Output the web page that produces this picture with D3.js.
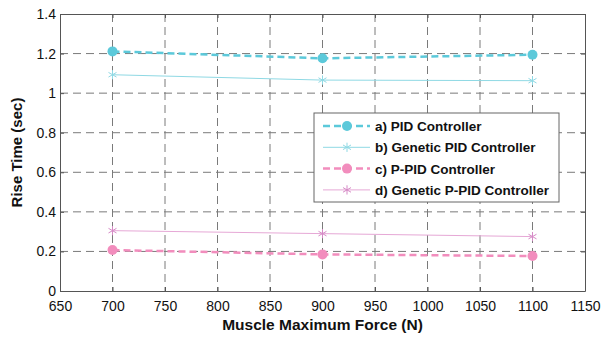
<!DOCTYPE html>
<html>
<head>
<meta charset="utf-8">
<script src="https://cdn.jsdelivr.net/npm/d3@7"></script>
<style>
  body { margin: 0; background: #fff; }
  text { font-family: "Liberation Sans", Arial, sans-serif; }
</style>
</head>
<body>
<svg id="chart" width="601" height="337"></svg>
<script>
// data
const forces = [700, 900, 1100];
const pid = [1.211, 1.176, 1.194];
const geneticPid = [1.093, 1.066, 1.063];
const pPid = [0.207, 0.185, 0.177];
const geneticPPid = [0.305, 0.29, 0.275];
const xTicks = [650, 700, 750, 800, 850, 900, 950, 1000, 1050, 1100, 1150];
const yTicks = [0, 0.2, 0.4, 0.6, 0.8, 1, 1.2, 1.4];

const series = [
  { name: "a) PID Controller", values: pid, color: "#5cc9da", dash: "7,4", width: 2.5, marker: "circle" },
  { name: "b) Genetic PID Controller", values: geneticPid, color: "#8fd9e4", dash: null, width: 1, marker: "star" },
  { name: "c) P-PID Controller", values: pPid, color: "#f28dbd", dash: "7,4", width: 2.5, marker: "circle" },
  { name: "d) Genetic P-PID Controller", values: geneticPPid, color: "#e6a8d6", dash: null, width: 1, marker: "star", markerColor: "#d68ac6" }
];

const margin = { left: 60, top: 14, right: 16, bottom: 45 };
const width = 601, height = 337;
const iw = width - margin.left - margin.right;
const ih = height - margin.top - margin.bottom - 1;

const svg = d3.select("#chart");
const g = svg.append("g").attr("transform", `translate(${margin.left},${margin.top})`);

const x = d3.scaleLinear().domain([650, 1150]).range([0, iw]);
const y = d3.scaleLinear().domain([0, 1.4]).range([ih, 0]);

// grid
g.append("g").selectAll("line").data(xTicks.slice(1, -1)).join("line")
  .attr("x1", d => x(d)).attr("x2", d => x(d)).attr("y1", 0).attr("y2", ih)
  .attr("stroke", "#7a7a7a").attr("stroke-dasharray", "8,5").attr("stroke-width", 1);
g.append("g").selectAll("line").data(yTicks.slice(1, -1)).join("line")
  .attr("x1", 0).attr("x2", iw).attr("y1", d => y(d)).attr("y2", d => y(d))
  .attr("stroke", "#7a7a7a").attr("stroke-dasharray", "8,5").attr("stroke-width", 1);

// axes (box with mirrored ticks)
const styleAxis = sel => {
  sel.select(".domain").attr("stroke", "#555");
  sel.selectAll(".tick line").attr("stroke", "#555");
  sel.selectAll("text").attr("font-size", 14).attr("fill", "#111");
};
g.append("g").attr("transform", `translate(0,${ih})`)
  .call(d3.axisBottom(x).tickValues(xTicks).tickSize(-4).tickSizeOuter(0).tickPadding(10).tickFormat(d3.format("d")))
  .call(styleAxis);
g.append("g")
  .call(d3.axisLeft(y).tickValues(yTicks).tickSize(-4).tickSizeOuter(0).tickPadding(4).tickFormat(d => d3.format("")(d)))
  .call(styleAxis);
g.append("g")
  .call(d3.axisTop(x).tickValues(xTicks).tickSize(-4).tickSizeOuter(0).tickFormat(""))
  .call(styleAxis);
g.append("g").attr("transform", `translate(${iw},0)`)
  .call(d3.axisRight(y).tickValues(yTicks).tickSize(-4).tickSizeOuter(0).tickFormat(""))
  .call(styleAxis);

// markers
const star = d3.symbol().type(d3.symbolAsterisk).size(60);
function drawMarker(sel, s, cx, cy) {
  if (s.marker === "circle") {
    sel.append("circle").attr("cx", cx).attr("cy", cy).attr("r", 5).attr("fill", s.color);
  } else {
    sel.append("path").attr("d", star).attr("transform", `translate(${cx},${cy})`)
      .attr("fill", "none").attr("stroke", s.markerColor || s.color).attr("stroke-width", 1);
  }
}

// lines
const line = d3.line().x((d, i) => x(forces[i])).y(d => y(d));
series.forEach(s => {
  const sg = g.append("g");
  sg.append("path").datum(s.values).attr("d", line)
    .attr("fill", "none").attr("stroke", s.color).attr("stroke-width", s.width)
    .attr("stroke-dasharray", s.dash);
  s.values.forEach((v, i) => drawMarker(sg, s, x(forces[i]), y(v)));
});

// legend
const lg = svg.append("g").attr("transform", "translate(314,113)");
lg.append("rect").attr("width", 245).attr("height", 89)
  .attr("fill", "#fff").attr("stroke", "#666").attr("stroke-width", 1);
series.forEach((s, i) => {
  const cy = 13 + i * 21.3;
  lg.append("line").attr("x1", 9).attr("x2", 56).attr("y1", cy).attr("y2", cy)
    .attr("stroke", s.color).attr("stroke-width", s.width).attr("stroke-dasharray", s.dash);
  drawMarker(lg, s, 33, cy);
  lg.append("text").attr("x", 61).attr("y", cy + 5).attr("font-size", 13.5)
    .attr("font-weight", "bold").attr("fill", "#111").text(s.name);
});

// axis titles
svg.append("text").attr("x", margin.left + iw / 2).attr("y", 330)
  .attr("text-anchor", "middle").attr("font-size", 15.5).attr("font-weight", "bold").attr("fill", "#111")
  .text("Muscle Maximum Force (N)");
svg.append("text").attr("transform", `translate(22,${margin.top + ih / 2}) rotate(-90)`)
  .attr("text-anchor", "middle").attr("font-size", 15).attr("font-weight", "bold").attr("fill", "#111")
  .text("Rise Time (sec)");
</script>
</body>
</html>
